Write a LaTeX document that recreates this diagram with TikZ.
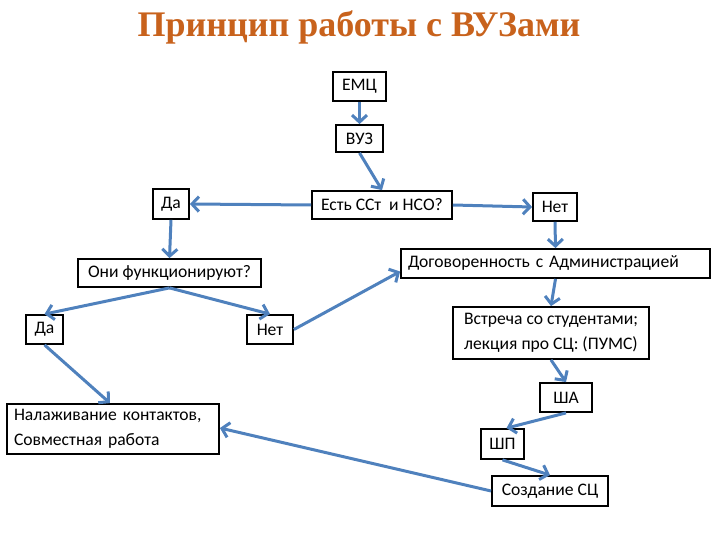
\documentclass[tikz,border=0pt]{standalone}
\usepackage{fontspec}
\setmainfont{Carlito}
\newfontfamily\titlefont{Liberation Serif}
\usetikzlibrary{arrows.meta}
\definecolor{titleorange}{RGB}{200,98,28}
\definecolor{arrowblue}{RGB}{79,129,189}
\tikzset{
  box/.style={draw=black, line width=1.8pt, inner sep=0pt, font=\fontsize{17.6}{25}\selectfont, fill=white},
  conn/.style={draw=arrowblue, line width=3pt, -{Straight Barb[length=7pt,width=15pt,line width=3pt]}},
}
\begin{document}
\begin{tikzpicture}[x=1pt,y=-1pt]
\useasboundingbox (0,0) rectangle (720,540);
\node[font=\titlefont\bfseries\fontsize{36}{42}\selectfont, text=titleorange] (title) at (359,27) {Принцип работы с ВУЗами};

\node[box, minimum width=53pt, minimum height=29pt] (emc) at (359.5,86.5) {ЕМЦ};
\node[box, minimum width=47pt, minimum height=27pt] (vuz) at (359.5,138.5) {ВУЗ};
\node[box, minimum width=140pt, minimum height=28pt] (est) at (382,205) {Есть ССт\ \ и НСО?};
\node[box, minimum width=44pt, minimum height=28pt] (net1) at (555,207) {Нет};
\node[box, minimum height=29pt, text width=295pt, inner xsep=7pt, align=left] (dog) at (555.5,263.5) {Договоренность с Администрацией};
\node[box, minimum width=36pt, minimum height=30pt] (da1) at (171,204) {Да};
\node[box, minimum width=183pt, minimum height=28pt] (oni) at (169.5,273) {Они функционируют?};
\node[box, minimum width=37pt, minimum height=29pt] (da2) at (44.5,329.5) {Да};
\node[box, minimum width=46pt, minimum height=29pt] (net2) at (270,329.5) {Нет};
\node[box, minimum height=50pt, text width=198pt, inner xsep=7pt, align=left] (nal) at (113,429) {Налаживание контактов,\\Совместная работа};
\node[box, minimum width=196pt, minimum height=52pt, align=center] (vstr) at (551,333) {Встреча со студентами;\\лекция про СЦ: (ПУМС)};
\node[box, minimum width=52pt, minimum height=29pt] (sha) at (566,397.5) {ША};
\node[box, minimum width=43pt, minimum height=30pt] (shp) at (502.5,444) {ШП};
\node[box, minimum width=116pt, minimum height=30pt] (sozd) at (550,491) {Создание СЦ};

\draw[conn] (emc.south) -- (vuz.north);
\draw[conn] (vuz.south) -- (est.north);
\draw[conn] (est.west) -- (da1.east);
\draw[conn] (est.east) -- (net1.west);
\draw[conn] (net1.south) -- (dog.north);
\draw[conn] (da1.south) -- (oni.north);
\draw[conn] (oni.south) -- (da2.north);
\draw[conn] (oni.south) -- (net2.north);
\draw[conn] (net2.east) -- ([yshift=-8pt]dog.west);
\draw[conn] (da2.south) -- ([xshift=-3pt]nal.north);
\draw[conn] (dog.south) -- (vstr.north);
\draw[conn] (vstr.south) -- (sha.north);
\draw[conn] (sha.south) -- ([xshift=4pt]shp.north);
\draw[conn] (shp.south) -- (sozd.north);
\draw[conn] (sozd.west) -- ([yshift=1pt]nal.east);
\end{tikzpicture}
\end{document}
